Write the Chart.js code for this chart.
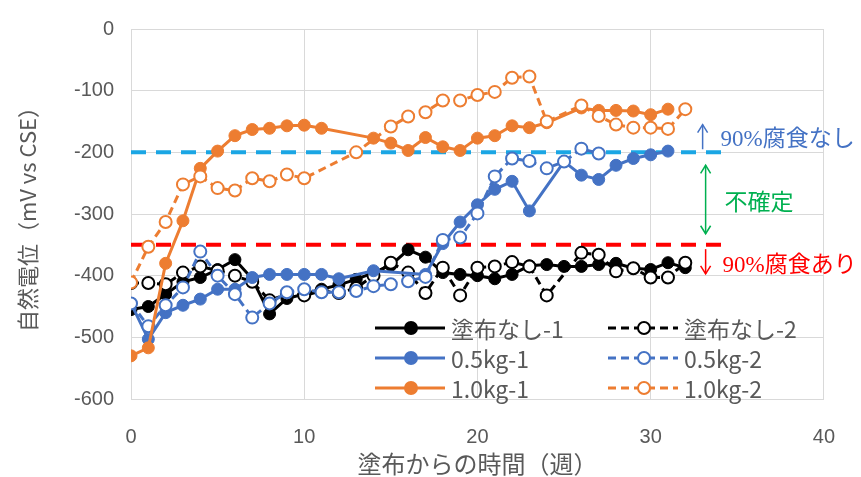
<!DOCTYPE html>
<html>
<head>
<meta charset="utf-8">
<script src="https://cdn.jsdelivr.net/npm/chart.js@4.4.1/dist/chart.umd.min.js"></script>
<style>
  body { margin: 0; background: #fff; }
</style>
</head>
<body>
<canvas id="potentialChart" width="861" height="477"></canvas>
<script>
// 週 (weeks after coating)
const weeks = [0, 1, 2, 3, 4, 5, 6, 7, 8, 9, 10, 11, 12, 13, 14, 15, 16,
    17, 18, 19, 20, 21, 22, 23, 24, 25, 26, 27, 28, 29, 30, 31, 32];

// 自然電位 mV vs CSE, null = no reading
const noCoat1 = [-455, -450, -430, -410, -403, -390, -374, -405, -462, -437, -430, -422, -415, -406, -395, -383, -358,
    -370, -395, -398, -400, -405, -398, -384, -382, -385, -385, -382, -380, -388, -390, -379, -387];
const noCoat2 = [-412, -412, -414, -395, -385, -392, -400, -410, -440, -430, -432, -425, -428, -420, -400, -379, -395,
    -428, -387, -432, -387, -385, -378, -385, -432, null, -363, -366, -393, -388, -403, -403, -379];
const kg05_1 = [-445, -503, -460, -448, -438, -422, -422, -403, -398, -398, -398, -398, -405, null, -392, null, null,
    -398, -348, -313, -285, -260, -247, -295, null, -215, -237, -244, -221, -210, -204, -198, null];
const kg05_2 = [-445, -482, -448, -419, -361, -400, -430, -468, -445, -427, -422, -427, -427, -425, -417, -414, -409,
    -402, -342, -338, -299, -239, -210, -214, -226, -215, -194, -202, null, null, null, null, null];
const kg10_1 = [-530, -517, -380, -311, -226, -198, -173, -163, -161, -157, -156, -161, null, null, -177, -185, -197,
    -176, -191, -197, -177, -173, -157, -160, -152, null, -128, -132, -132, -133, -139, -130, null];
const kg10_2 = [-411, -353, -313, -252, -239, -258, -262, -242, -247, -236, -242, null, null, -200, null, -158, -142,
    -135, -116, -116, -107, -102, -79, -77, -150, null, -124, -141, -155, -160, -160, -162, -130];

// 判定ライン
const refWeeks = [0, 34.5];
const noCorrosionLine = -200;
const corrosionLine = -350;

const xTicks = [0, 10, 20, 30, 40];
const yTicks = [0, -100, -200, -300, -400, -500, -600];

const gray = '#595959';
const black = '#000000';
const blue = '#4472C4';
const orange = '#ED7D31';

function toPoints(values) {
    return weeks.map((w, i) => ({ x: w, y: values[i] })).filter(p => p.y !== null);
}

function series(label, values, color, open, order) {
    return {
        label: label,
        data: toPoints(values),
        borderColor: color,
        backgroundColor: open ? '#ffffff' : color,
        pointBackgroundColor: open ? '#ffffff' : color,
        pointBorderColor: color,
        pointBorderWidth: open ? 2 : 1,
        pointRadius: 6,
        borderWidth: 3,
        borderDash: open ? [8, 5] : [],
        spanGaps: true,
        order: order
    };
}

function refLine(value, color) {
    return {
        label: '',
        data: refWeeks.map(w => ({ x: w, y: value })),
        borderColor: color,
        borderWidth: 4,
        borderDash: [15, 10],
        pointRadius: 0,
        order: 10
    };
}

// 凡例 (drawn inside the plot, two columns)
const legendItems = [
    { label: '塗布なし-1', color: black, open: false, col: 0, row: 0 },
    { label: '塗布なし-2', color: black, open: true, col: 1, row: 0 },
    { label: '0.5kg-1', color: blue, open: false, col: 0, row: 1 },
    { label: '0.5kg-2', color: blue, open: true, col: 1, row: 1 },
    { label: '1.0kg-1', color: orange, open: false, col: 0, row: 2 },
    { label: '1.0kg-2', color: orange, open: true, col: 1, row: 2 }
];

const extrasPlugin = {
    id: 'extras',
    afterDatasetsDraw(chart) {
        const ctx = chart.ctx;
        const xs = chart.scales.x;
        const ys = chart.scales.y;
        ctx.save();

        // legend
        const colX = [375, 608];
        const rowY = [328, 358, 388];
        legendItems.forEach(item => {
            const x0 = colX[item.col];
            const y = rowY[item.row];
            ctx.strokeStyle = item.color;
            ctx.lineWidth = 3;
            ctx.setLineDash(item.open ? [8, 5] : []);
            ctx.beginPath();
            ctx.moveTo(x0, y);
            ctx.lineTo(x0 + 70, y);
            ctx.stroke();
            ctx.setLineDash([]);
            ctx.beginPath();
            ctx.arc(x0 + 36, y, 6, 0, Math.PI * 2);
            ctx.fillStyle = item.open ? '#ffffff' : item.color;
            ctx.fill();
            ctx.lineWidth = 2;
            ctx.stroke();
            ctx.fillStyle = gray;
            ctx.font = '23px "Noto Sans CJK JP", sans-serif';
            ctx.textAlign = 'left';
            ctx.textBaseline = 'middle';
            ctx.fillText(item.label, x0 + 76, y + 1);
        });

        // 判定の注記
        const ax = xs.getPixelForValue(33);
        const tx = ax + 18;
        ctx.font = '23px "Liberation Serif", "Noto Sans CJK JP", serif';
        ctx.textBaseline = 'middle';
        ctx.lineWidth = 1.5;

        function arrowHead(x, y, dir, color) {
            ctx.strokeStyle = color;
            ctx.beginPath();
            ctx.moveTo(x - 5, y - 8 * dir);
            ctx.lineTo(x, y);
            ctx.lineTo(x + 5, y - 8 * dir);
            ctx.stroke();
        }

        // 90%腐食なし
        let yTop = ys.getPixelForValue(-155);
        let yBot = ys.getPixelForValue(-195);
        ctx.strokeStyle = blue;
        ctx.beginPath();
        ctx.moveTo(ax, yTop);
        ctx.lineTo(ax, yBot);
        ctx.stroke();
        arrowHead(ax, yTop, -1, blue);
        ctx.fillStyle = blue;
        ctx.fillText('90%腐食なし', tx, ys.getPixelForValue(-180));

        // 不確定
        const green = '#00B050';
        yTop = ys.getPixelForValue(-221);
        yBot = ys.getPixelForValue(-332);
        ctx.strokeStyle = green;
        ctx.beginPath();
        ctx.moveTo(ax + 3, yTop);
        ctx.lineTo(ax + 3, yBot);
        ctx.stroke();
        arrowHead(ax + 3, yTop, -1, green);
        arrowHead(ax + 3, yBot, 1, green);
        ctx.fillStyle = green;
        ctx.fillText('不確定', tx + 4, ys.getPixelForValue(-284));

        // 90%腐食あり
        const red = '#FF0000';
        yTop = ys.getPixelForValue(-357);
        yBot = ys.getPixelForValue(-397);
        ctx.strokeStyle = red;
        ctx.beginPath();
        ctx.moveTo(ax + 3, yTop);
        ctx.lineTo(ax + 3, yBot);
        ctx.stroke();
        arrowHead(ax + 3, yBot, 1, red);
        ctx.fillStyle = red;
        ctx.fillText('90%腐食あり', tx + 2, ys.getPixelForValue(-384));

        ctx.restore();
    }
};

let potentialChart = new Chart(document.getElementById('potentialChart'), {
    type: 'line',
    data: {
        datasets: [
            series('1.0kg-2', kg10_2, orange, true, 1),
            series('1.0kg-1', kg10_1, orange, false, 2),
            series('0.5kg-2', kg05_2, blue, true, 3),
            series('0.5kg-1', kg05_1, blue, false, 4),
            series('塗布なし-2', noCoat2, black, true, 5),
            series('塗布なし-1', noCoat1, black, false, 6),
            refLine(noCorrosionLine, '#1BA6E4'),
            refLine(corrosionLine, '#FF0000')
        ]
    },
    options: {
        responsive: false,
        animation: false,
        devicePixelRatio: 1,
        layout: { padding: { left: 10, top: 21, right: 33, bottom: 0 } },
        plugins: {
            legend: { display: false },
            tooltip: { enabled: false }
        },
        scales: {
            x: {
                type: 'linear',
                min: 0,
                max: 40,
                afterBuildTicks: scale => { scale.ticks = xTicks.map(v => ({ value: v })); },
                afterFit: scale => { scale.height = 78; },
                grid: { color: '#D9D9D9', drawTicks: false },
                border: { color: '#D9D9D9' },
                ticks: { color: gray, padding: 26, font: { size: 20, family: 'Liberation Sans Narrow, Arial, sans-serif' } },
                title: {
                    display: true,
                    text: '塗布からの時間（週）',
                    color: gray,
                    padding: { top: 0, bottom: -1 },
                    font: { size: 24, family: '"Noto Sans CJK JP", sans-serif' }
                }
            },
            y: {
                min: -600,
                max: 0,
                afterBuildTicks: scale => { scale.ticks = yTicks.map(v => ({ value: v })); },
                afterFit: scale => { scale.width = 121; },
                grid: { color: '#D9D9D9', drawTicks: false },
                border: { color: '#D9D9D9' },
                ticks: { color: gray, padding: 17, font: { size: 20, family: 'Liberation Sans Narrow, Arial, sans-serif' } },
                title: {
                    display: true,
                    text: '自然電位（mV vs CSE）',
                    color: gray,
                    padding: { top: 4, bottom: 0 },
                    font: { size: 22, family: '"Noto Sans CJK JP", sans-serif' }
                }
            }
        }
    },
    plugins: [extrasPlugin]
});
</script>
</body>
</html>
